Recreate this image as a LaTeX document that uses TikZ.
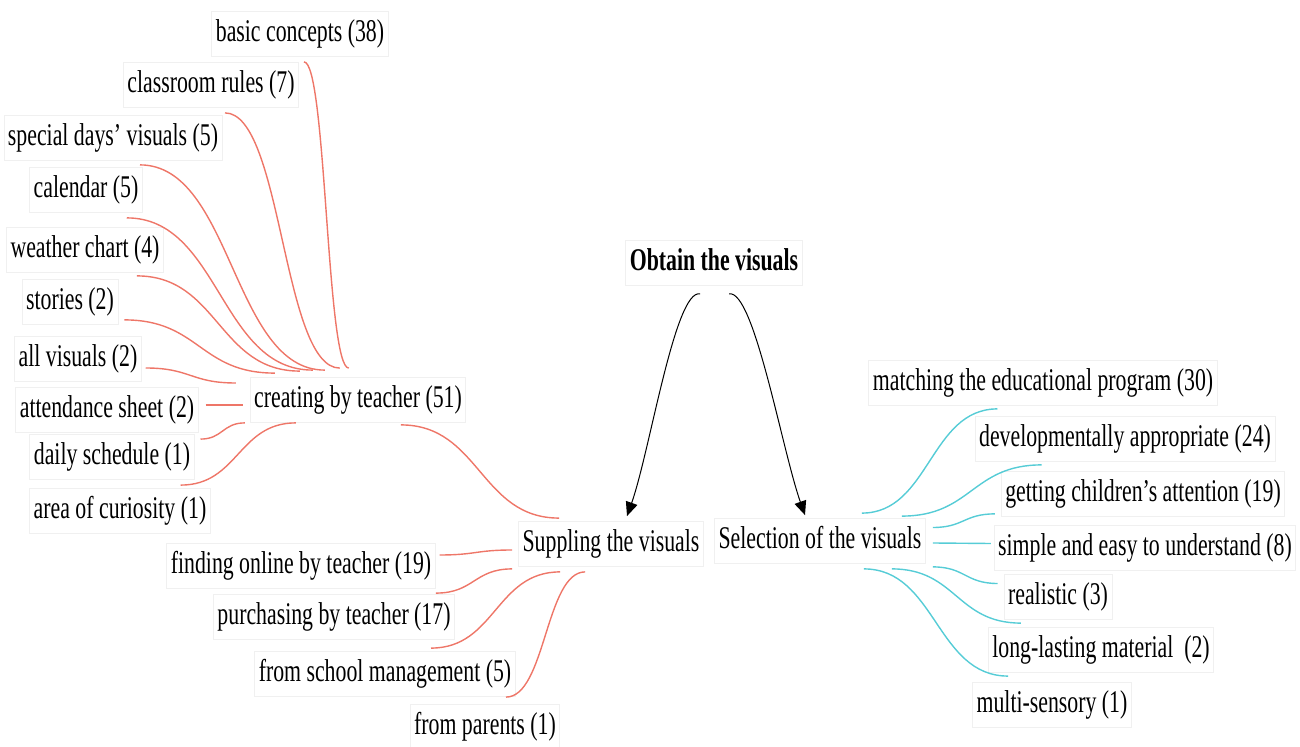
\documentclass[tikz,border=0pt]{standalone}
\usepackage{fontspec}
\setmainfont{Liberation Serif}[FakeStretch=0.69]
\usetikzlibrary{arrows.meta,calc}

\begin{document}
\begin{tikzpicture}[x=0.5pt,y=-0.5pt,>={Triangle[length=7pt,width=6pt]},
  box/.style={draw=gray!12,fill=white,inner xsep=2pt,inner ysep=4pt,text height=11pt,text depth=3.5pt,font=\fontsize{15.8}{18}\selectfont},
  hs/.style={to path={let \p1=(\tikztostart),\p2=(\tikztotarget) in .. controls ({(\x1+\x2)/2},\y1) and ({(\x1+\x2)/2},\y2) .. (\tikztotarget)}}]
\definecolor{cR}{RGB}{238,118,104}\definecolor{cC}{RGB}{86,204,214}
\useasboundingbox (0,0) rectangle (1300,747);
% creating by teacher
\node[box] (bc) at (300,34) {basic concepts (38)};
\node[box] (cr) at (211,85) {classroom rules (7)};
\node[box] (sd) at (113,138) {special days' visuals (5)};
\node[box] (cal) at (86,190) {calendar (5)};
\node[box] (wc) at (85,250) {weather chart (4)};
\node[box] (sto) at (70,302) {stories (2)};
\node[box] (av) at (78,359) {all visuals (2)};
\node[box] (as) at (107,410) {attendance sheet (2)};
\node[box] (dsch) at (112,457) {daily schedule (1)};
\node[box] (aoc) at (120,511) {area of curiosity (1)};
\node[box] (cbt) at (358,400) {creating by teacher (51)};
% suppling
\node[box] (sup) at (611,544) {Suppling the visuals};
\node[box] (fo) at (301,566) {finding online by teacher (19)};
\node[box] (pt) at (334,617) {purchasing by teacher (17)};
\node[box] (sm) at (385,674) {from school management (5)};
\node[box] (fp) at (485,727) {from parents (1)};
% top
\node[box,font=\fontsize{15.8}{18}\selectfont\bfseries] (obt) at (714,263) {Obtain the visuals};
% selection
\node[box] (sel) at (820,541) {Selection of the visuals};
\node[box] (mep) at (1043,383) {matching the educational program (30)};
\node[box] (dap) at (1125,439) {developmentally appropriate (24)};
\node[box] (gca) at (1143,494) {getting children's attention (19)};
\node[box] (seu) at (1145,548) {simple and easy to understand (8)};
\node[box] (rea) at (1058,597) {realistic (3)};
\node[box] (llm) at (1101,650) {long-lasting material\ \ (2)};
\node[box] (msy) at (1052,705) {multi-sensory (1)};
% red links
\begin{scope}[cR,line width=0.7pt]
\draw ($(bc.south)+(4,5)$) to[hs] ($(cbt.north west)+(99,-9)$);
\draw ($(cr.south)+(14,5)$) to[hs] ($(cbt.north west)+(90,-9)$);
\draw ($(sd.south)+(27,4)$) to[hs] ($(cbt.north west)+(75,-7)$);
\draw ($(cal.south east)+(-16,5)$) to[hs] ($(cbt.north west)+(63,-7)$);
\draw ($(wc.south east)+(-27,3)$) to[hs] ($(cbt.north west)+(50,-6)$);
\draw ($(sto.south east)+(6,-5)$) to[hs] ($(cbt.north west)+(25,-4)$);
\draw ($(av.east)+(4,9)$) to[hs] ($(cbt.west)+(-14,-17)$);
\draw ($(as.east)+(7,-5)$) to[hs] ($(cbt.west)+(-7,5)$);
\draw ($(dsch.north east)+(6,5)$) to[hs] ($(cbt.south west)+(-5,0)$);
\draw ($(aoc.north east)+(-30,-3)$) to[hs] ($(cbt.south west)+(46,0)$);
\draw ($(cbt.south west)+(151,2)$) to[hs] ($(sup.north west)+(41,-3)$);
\draw ($(fo.east)+(4,-11)$) to[hs] ($(sup.west)+(-6,6)$);
\draw ($(pt.north east)+(-19,-1)$) to[hs] ($(sup.south west)+(-6,2)$);
\draw ($(sm.north)+(46,-3)$) to[hs] ($(sup.south west)+(42,5)$);
\draw ($(fp.north)+(21,-7)$) to[hs] ($(sup.south west)+(67,5)$);
\end{scope}
% cyan links
\begin{scope}[cC,line width=0.7pt]
\draw ($(sel.north east)+(-64,-5)$) to[hs] ($(mep.south west)+(129,3)$);
\draw ($(sel.north east)+(-24,-2)$) to[hs] ($(dap.south west)+(67,3)$);
\draw ($(sel.east)+(7,-13.5)$) to[hs] ($(gca.south west)+(-6,-3)$);
\draw ($(sel.east)+(7,2)$) to[hs] ($(seu.west)+(-3,-4.5)$);
\draw ($(sel.south east)+(7,3)$) to[hs] ($(rea.west)+(-6,-13.5)$);
\draw ($(sel.south east)+(-34,5)$) to[hs] ($(llm.north west)+(33,-4)$);
\draw ($(sel.south east)+(-62,5)$) to[hs] ($(msy.north west)+(36,-6)$);
\end{scope}
% arrows
\draw[->,line width=0.5pt] ($(obt.south)+(-14,8)$) .. controls +(-25,-5) and +(23,-65) .. ($(sup.north)+(16,-5)$);
\draw[->,line width=0.5pt] ($(obt.south)+(15,8)$) .. controls +(25,-5) and +(-23,-65) .. ($(sel.north)+(-15,-3)$);
\end{tikzpicture}
\end{document}
